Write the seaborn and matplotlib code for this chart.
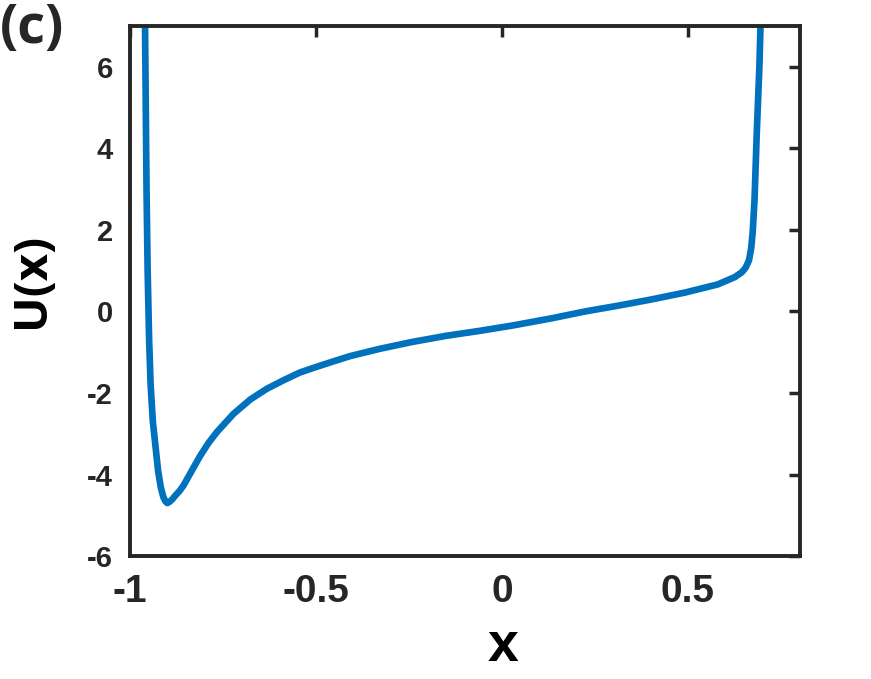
import seaborn as sns
import matplotlib.pyplot as plt
import pandas as pd

# valeurs
x_vals = [-0.959, -0.957, -0.955, -0.952, -0.948, -0.944, -0.938, -0.931, -0.924, -0.917,
          -0.910, -0.904, -0.899, -0.892, -0.885, -0.878, -0.866, -0.855, -0.833, -0.810,
          -0.788, -0.765, -0.721, -0.676, -0.632, -0.587, -0.543, -0.498, -0.454, -0.409,
          -0.329, -0.241, -0.150, -0.061, 0.027, 0.134, 0.225, 0.313, 0.401, 0.492,
          0.580, 0.626, 0.645, 0.655, 0.664, 0.670, 0.674, 0.679, 0.685, 0.692, 0.695]
u_vals = [7.0, 5.0, 3.0, 1.0, -0.7, -1.8, -2.7, -3.3, -3.9, -4.3,
          -4.55, -4.66, -4.70, -4.66, -4.60, -4.52, -4.40, -4.26, -3.90, -3.53,
          -3.22, -2.95, -2.51, -2.16, -1.90, -1.69, -1.50, -1.36, -1.23, -1.10,
          -0.92, -0.75, -0.60, -0.48, -0.35, -0.17, 0.0, 0.14, 0.29, 0.46,
          0.66, 0.84, 0.96, 1.07, 1.25, 1.55, 1.94, 2.75, 4.39, 6.0, 7.0]
x_ticks = [-1, -0.5, 0, 0.5]
x_tick_labels = ["-1", "-0.5", "0", "0.5"]
y_ticks = [-6, -4, -2, 0, 2, 4, 6]

df = pd.DataFrame({"x": x_vals, "U": u_vals})

sns.set_theme(style="white")
plt.rcParams["font.family"] = ["Liberation Sans Narrow", "Liberation Sans", "DejaVu Sans"]
plt.rcParams["axes.unicode_minus"] = False

fig = plt.figure(figsize=(8.71, 6.79), dpi=100)
ax = fig.add_axes([0.149, 0.181, 0.769, 0.781])

sns.lineplot(data=df, x="x", y="U", sort=False, estimator=None,
             color="#0072BD", linewidth=4.8, ax=ax)

ax.set_xlim(-1, 0.8)
ax.set_ylim(-6, 7)
ax.set_xticks(x_ticks)
ax.set_xticklabels(x_tick_labels)
ax.set_yticks(y_ticks)

ax.tick_params(direction="in", top=True, right=True, length=8, width=2.5,
               colors="#262626")
ax.tick_params(axis="x", labelsize=28, pad=13)
ax.tick_params(axis="y", labelsize=21, pad=12)
for lab in ax.get_xticklabels() + ax.get_yticklabels():
    lab.set_fontweight("bold")
for sp in ax.spines.values():
    sp.set_linewidth(2.8)
    sp.set_color("#262626")

ax.set_xlabel("x", fontsize=40, fontweight="bold", color="black")
ax.xaxis.set_label_coords(0.557, -0.122)
ax.set_ylabel("U(x)", fontsize=34, fontweight="bold", color="black",
              family=["Open Sans", "DejaVu Sans"])
ax.yaxis.set_label_coords(-0.111, 0.52)

fig.text(0.0, 0.997, "(c)", fontsize=39, fontweight="bold", ha="left", va="top",
         family=["Open Sans", "DejaVu Sans"])

fig.savefig("out.png", dpi=100)
